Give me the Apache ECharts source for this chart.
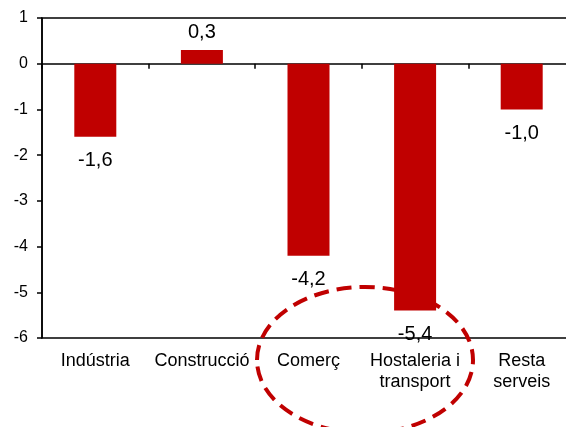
<!DOCTYPE html>
<html>
<head>
<meta charset="utf-8">
<script src="https://cdn.jsdelivr.net/npm/echarts@6/dist/echarts.min.js"></script>
<style>html,body{margin:0;padding:0;background:#fff;}#c{width:566px;height:427px;}</style>
</head>
<body>
<div id="c"></div>
<script>
var categories = ['Indústria', 'Construcció', 'Comerç', 'Hostaleria i\ntransport', 'Resta\nserveis'];
var values = [-1.6, 0.3, -4.2, -5.4, -1.0];
var yTicks = { min: -6, max: 1, interval: 1 };

var FONT = '"Liberation Sans", Arial, sans-serif';
var chart = echarts.init(document.getElementById('c'), null, { renderer: 'canvas' });
chart.setOption({
  animation: false,
  backgroundColor: '#fff',
  grid: { left: 42, width: 533, top: 18, height: 320, outerBoundsMode: 'none', containLabel: false, show: true, borderColor: '#000', borderWidth: 1.5, backgroundColor: 'transparent' },
  xAxis: [
    {
      type: 'category', data: categories, position: 'bottom',
      axisLine: { show: false, onZero: false },
      axisTick: { show: false },
      axisLabel: { color: '#000', fontFamily: FONT, fontSize: 18, margin: 13, lineHeight: 21, interval: 0 }
    },
    {
      type: 'category', data: categories, position: 'top',
      axisLine: { show: true, onZero: true, lineStyle: { color: '#000', width: 1.5 } },
      axisTick: { show: true, inside: true, length: 5, lineStyle: { color: '#000', width: 1.5 } },
      axisLabel: { show: false }
    }
  ],
  yAxis: {
    type: 'value', min: yTicks.min, max: yTicks.max, interval: yTicks.interval,
    axisLine: { show: true, lineStyle: { color: '#000', width: 1.5 } },
    axisTick: { show: true, length: 5, lineStyle: { color: '#000', width: 1.5 } },
    splitLine: { show: false },
    axisLabel: { color: '#000', fontFamily: FONT, fontSize: 16, margin: 14 }
  },
  series: [{
    type: 'bar',
    xAxisIndex: 0,
    barWidth: 42,
    itemStyle: { color: '#C00000' },
    data: values.map(function (v) {
      return {
        value: v,
        label: {
          show: true,
          position: v < 0 ? 'bottom' : 'top',
          distance: v < 0 ? 14 : 8,
          color: '#000', fontFamily: FONT, fontSize: 20,
          formatter: function (p) { return p.value.toFixed(1).replace('.', ','); }
        }
      };
    })
  }],
  graphic: [{
    type: 'ellipse',
    z: 100,
    shape: { cx: 365, cy: 360, rx: 108, ry: 73 },
    style: { fill: 'none', stroke: '#C00000', lineWidth: 4, lineDash: [15, 8] }
  }]
});
</script>
</body>
</html>
